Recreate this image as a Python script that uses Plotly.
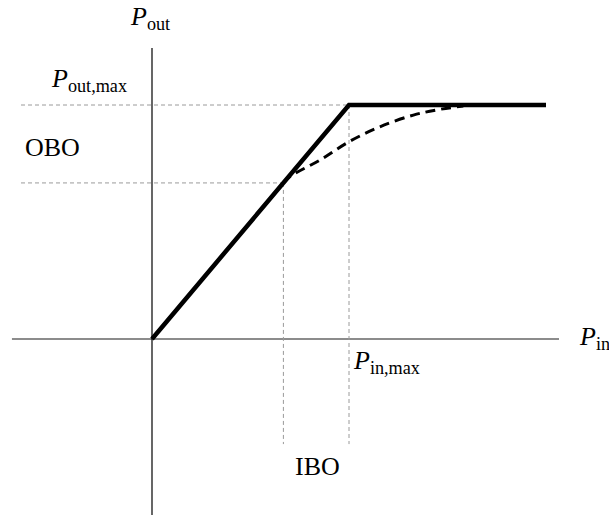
import plotly.graph_objects as go

# Ideal limiter transfer characteristic (normalised: P_in,max = P_out,max = 1)
ideal_x = [0.0, 1.0, 2.0]
ideal_y = [0.0, 1.0, 1.0]

# Real amplifier compression curve (dashed), from the operating point up to saturation
real_x = [0.667, 0.70, 0.853, 1.0, 1.157, 1.327, 1.445, 1.58]
real_y = [0.667, 0.694, 0.765, 0.843, 0.907, 0.957, 0.979, 0.996]

# Operating point (back-off) and saturation levels
op_in, op_out = 0.667, 0.667
sat_in, sat_out = 1.0, 1.0

FONT = "'Liberation Serif', 'Times New Roman', Times, serif"

fig = go.Figure()

# axes drawn as lines through the origin
fig.add_trace(go.Scatter(x=[-0.711, 2.066], y=[0, 0], mode="lines",
                         line=dict(color="#666666", width=1.6), hoverinfo="skip"))
fig.add_trace(go.Scatter(x=[0, 0], y=[-0.76, 1.2436], mode="lines",
                         line=dict(color="black", width=1.2), hoverinfo="skip"))

# thin grey guide lines
guide = dict(color="#9a9a9a", width=1, dash="4px,3px")
fig.add_trace(go.Scatter(x=[-0.665, sat_in], y=[sat_out, sat_out], mode="lines", line=guide))
fig.add_trace(go.Scatter(x=[-0.665, op_in], y=[op_out, op_out], mode="lines", line=guide))
fig.add_trace(go.Scatter(x=[op_in, op_in], y=[op_out, -0.449], mode="lines", line=guide))
fig.add_trace(go.Scatter(x=[sat_in, sat_in], y=[sat_out, -0.449], mode="lines", line=guide))

# real (compressing) characteristic
fig.add_trace(go.Scatter(x=real_x, y=real_y, mode="lines",
                         line=dict(color="black", width=3, dash="10px,6px", shape="spline")))
# ideal characteristic
fig.add_trace(go.Scatter(x=ideal_x, y=ideal_y, mode="lines",
                         line=dict(color="black", width=4.5)))

labels = [
    ("<i>P</i><sub>out</sub>", -0.122, 1.37),
    ("<i>P</i><sub>out,max</sub>", -0.523, 1.105),
    ("OBO", -0.655, 0.8205),
    ("<i>P</i><sub>in</sub>", 2.157, 0.006),
    ("<i>P</i><sub>in,max</sub>", 1.01, -0.097),
    ("IBO", 0.716, -0.543),
]
for text, x, y in labels:
    fig.add_annotation(x=x, y=y, xref="x", yref="y", text=text, showarrow=False,
                       xanchor="left", yanchor="middle",
                       font=dict(family=FONT, size=26, color="black"))

fig.update_layout(
    width=609, height=515,
    margin=dict(l=0, r=0, t=0, b=0),
    paper_bgcolor="white", plot_bgcolor="white",
    showlegend=False,
    font=dict(family=FONT),
    xaxis=dict(range=[-0.7716, 2.3198], visible=False, fixedrange=True),
    yaxis=dict(range=[-0.752, 1.4487], visible=False, fixedrange=True),
)

fig.write_html("out.html")
